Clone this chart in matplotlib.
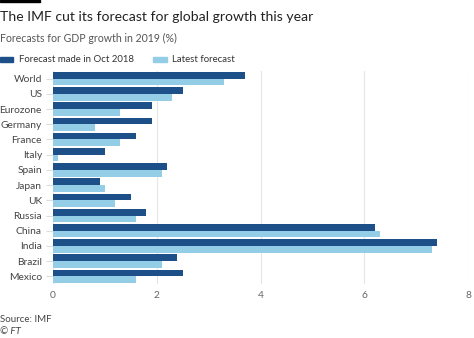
import numpy as np
import matplotlib.pyplot as plt
from matplotlib.patches import Rectangle

# IMF GDP growth forecasts for 2019 (%)
countries = ["World", "US", "Eurozone", "Germany", "France", "Italy", "Spain",
             "Japan", "UK", "Russia", "China", "India", "Brazil", "Mexico"]
oct_2018 = [3.7, 2.5, 1.9, 1.9, 1.6, 1.0, 2.2, 0.9, 1.5, 1.8, 6.2, 7.4, 2.4, 2.5]
latest = [3.3, 2.3, 1.3, 0.8, 1.3, 0.1, 2.1, 1.0, 1.2, 1.6, 6.3, 7.3, 2.1, 1.6]
x_ticks = [0, 2, 4, 6, 8]

dark = "#1d5089"
light = "#93cde6"
plt.rcParams['font.family'] = ['Lato', 'DejaVu Sans']

fig = plt.figure(figsize=(4.74, 3.38), dpi=100)
ax = fig.add_axes([53 / 474, 1 - 284 / 338, 415 / 474, 213 / 338])

y = np.arange(len(countries))
h = 0.44
ax.barh(y - h / 2, oct_2018, height=h, color=dark, zorder=3)
ax.barh(y + h / 2, latest, height=h, color=light, zorder=3)

ax.set_ylim(len(countries) - 0.5, -0.5)
ax.set_xlim(0, 8)
ax.set_yticks(y)
ax.set_yticklabels(countries, fontsize=7.4, color="#444444")
ax.set_xticks(x_ticks)
ax.set_xticklabels([str(t) for t in x_ticks], fontsize=7.4, color="#666666")
ax.tick_params(axis="y", length=5, color="#dddddd", pad=3)
ax.tick_params(axis="x", length=0, pad=5)
ax.grid(axis="x", color="#e6e6e6", linewidth=0.8, zorder=0)
for s in ax.spines.values():
    s.set_visible(False)

# header
fig.patches.append(Rectangle((0, 1 - 2 / 338), 40 / 474, 2 / 338,
                             transform=fig.transFigure, color="black"))
fig.text(0.0, 1 - 17 / 338, "The IMF cut its forecast for global growth this year",
         fontsize=10.1, color="#222222", va="center")
fig.text(0.0, 1 - 38 / 338, "Forecasts for GDP growth in 2019 (%)",
         fontsize=7.6, color="#555555", va="center")

# legend
fig.patches.append(Rectangle((0, 1 - 62 / 338), 13 / 474, 5 / 338,
                             transform=fig.transFigure, color=dark))
fig.text(19 / 474, 1 - 59.5 / 338, "Forecast made in Oct 2018",
         fontsize=6.9, color="#333333", va="center")
fig.patches.append(Rectangle((153 / 474, 1 - 62 / 338), 14 / 474, 5 / 338,
                             transform=fig.transFigure, color=light))
fig.text(172 / 474, 1 - 59.5 / 338, "Latest forecast",
         fontsize=6.9, color="#333333", va="center")

# footer
fig.text(0.0, 1 - 319 / 338, "Source: IMF", fontsize=7, color="#444444", va="center")
fig.text(0.0, 1 - 332 / 338, "© FT", fontsize=7, color="#444444", va="center",
         style="italic")

fig.savefig("out.png", dpi=100, facecolor="white")
